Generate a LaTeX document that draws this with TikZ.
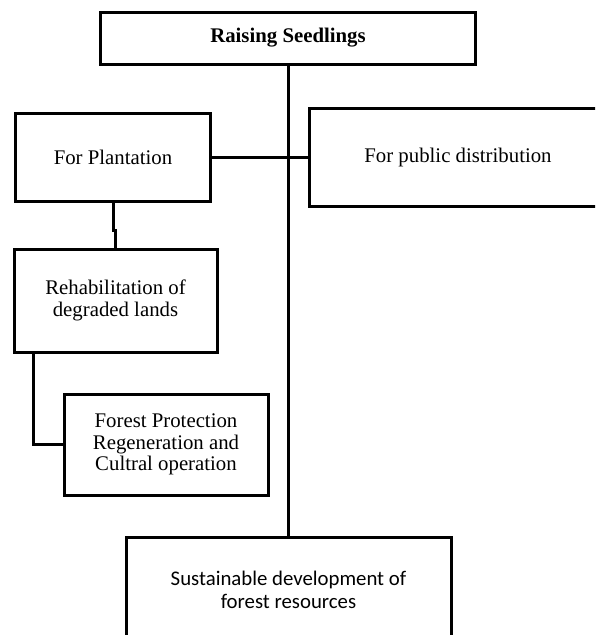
\documentclass[tikz,border=0pt]{standalone}
\usepackage{fontspec}
\setmainfont{Liberation Serif}
\newfontfamily\calibfont{Carlito}
\usepackage{tikz}
\usetikzlibrary{positioning,calc}

\begin{document}
\begin{tikzpicture}[x=1pt, y=-1pt,
    stage/.style={draw, rectangle, line width=3pt, align=center, inner sep=0pt, font=\fontsize{20.8}{21.7}\selectfont},
    goal/.style={stage, font=\calibfont\fontsize{20.8}{23}\selectfont},
    link/.style={line width=3pt}]

    \useasboundingbox (0,0) rectangle (595,635);
    \clip (0,0) rectangle (595,635);

   % Nodes
    \node[stage, minimum width=375pt, minimum height=52pt] (seed) at (288,38) {\textbf{Raising Seedlings}};
    \node[stage, minimum width=195pt, minimum height=88pt] (plant) at (113,157) {For Plantation};
    \node[stage, minimum width=298pt, minimum height=98pt] (public) at (458,157) {For public distribution};
    \node[stage, minimum width=203pt, minimum height=103pt] (rehab) at (115.5,300.5) {Rehabilitation of\\degraded lands};
    \node[stage, minimum width=204pt, minimum height=101pt] (protect) at (166,444.5) {Forest Protection\\Regeneration and\\Cultral operation};
    \node[goal, minimum width=325pt, minimum height=106pt] (sustain) at (288.5,590) {Sustainable development of\\forest resources};

    % Links
    \draw[link] (seed.south) -- (seed.south |- sustain.north);
    \draw[link] (plant.east) -- (public.west);
    \draw[link] (plant.south) -- ++(0,-28pt) -| (rehab.north);
    \draw[link] ([xshift=20.5pt]rehab.south west) |- (protect.west);
\end{tikzpicture}
\end{document}
